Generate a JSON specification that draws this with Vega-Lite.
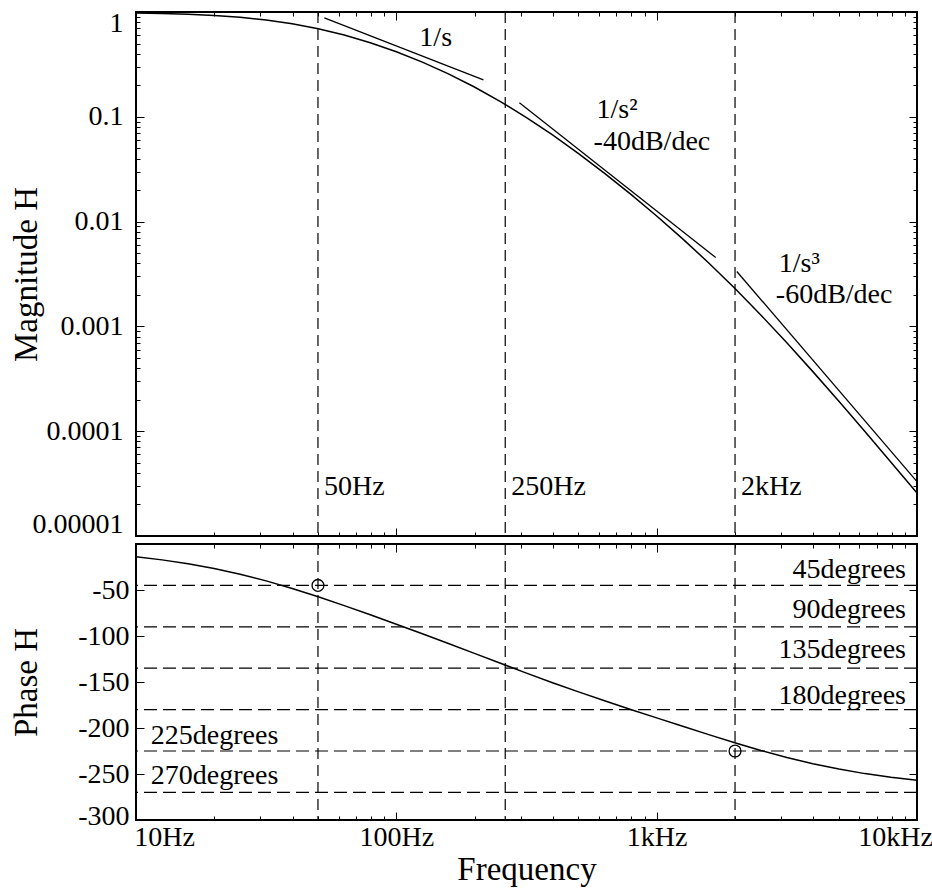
{
  "$schema": "https://vega.github.io/schema/vega-lite/v6.json",
  "padding": {"left": 8, "top": 1, "right": 0, "bottom": 0},
  "background": "white",
  "config": {
    "font": "Liberation Serif",
    "view": {"stroke": "black", "strokeWidth": 2},
    "axis": {
      "domain": false,
      "grid": false,
      "tickColor": "black",
      "tickWidth": 1,
      "labelFont": "Liberation Serif",
      "labelFontSize": 28,
      "labelColor": "black",
      "labelOverlap": false,
      "titleFont": "Liberation Serif",
      "titleFontSize": 33,
      "titleFontWeight": "normal",
      "titleColor": "black"
    }
  },
  "datasets": {
    "curve": [
      {"freq": 10, "mag": 0.97985, "phase": -13.78},
      {"freq": 12.589, "mag": 0.9686, "phase": -17.25},
      {"freq": 15.849, "mag": 0.95149, "phase": -21.5},
      {"freq": 19.953, "mag": 0.92605, "phase": -26.68},
      {"freq": 25.119, "mag": 0.88943, "phase": -32.87},
      {"freq": 31.623, "mag": 0.83896, "phase": -40.1},
      {"freq": 39.811, "mag": 0.77328, "phase": -48.31},
      {"freq": 50.119, "mag": 0.69347, "phase": -57.33},
      {"freq": 63.096, "mag": 0.60351, "phase": -66.95},
      {"freq": 79.433, "mag": 0.5094, "phase": -76.95},
      {"freq": 100, "mag": 0.41729, "phase": -87.18},
      {"freq": 125.89, "mag": 0.33205, "phase": -97.6},
      {"freq": 158.49, "mag": 0.25662, "phase": -108.19},
      {"freq": 199.53, "mag": 0.19243, "phase": -118.92},
      {"freq": 251.19, "mag": 0.13982, "phase": -129.69},
      {"freq": 316.23, "mag": 0.098415, "phase": -140.35},
      {"freq": 398.11, "mag": 0.067189, "phase": -150.75},
      {"freq": 501.19, "mag": 0.04461, "phase": -160.77},
      {"freq": 630.96, "mag": 0.028891, "phase": -170.43},
      {"freq": 794.33, "mag": 0.018289, "phase": -179.81},
      {"freq": 1000, "mag": 0.01132, "phase": -189.02},
      {"freq": 1258.9, "mag": 0.0068432, "phase": -198.16},
      {"freq": 1584.9, "mag": 0.0040306, "phase": -207.21},
      {"freq": 1995.3, "mag": 0.002309, "phase": -216.02},
      {"freq": 2511.9, "mag": 0.001286, "phase": -224.38},
      {"freq": 3162.3, "mag": 0.00069774, "phase": -232.05},
      {"freq": 3981.1, "mag": 0.00037022, "phase": -238.84},
      {"freq": 5011.9, "mag": 0.00019302, "phase": -244.68},
      {"freq": 6309.6, "mag": 0.000099338, "phase": -249.58},
      {"freq": 7943.3, "mag": 0.000050665, "phase": -253.62},
      {"freq": 10000, "mag": 0.000025682, "phase": -256.9}
    ],
    "segs": [
      {"seg": "s1", "freq": 52.9, "mag": 0.877},
      {"seg": "s1", "freq": 216, "mag": 0.225},
      {"seg": "s2", "freq": 297, "mag": 0.136},
      {"seg": "s2", "freq": 1686, "mag": 0.00454},
      {"seg": "s3", "freq": 2032, "mag": 0.00334},
      {"seg": "s3", "freq": 10000, "mag": 0.000033}
    ],
    "vlines": [{"freq": 50}, {"freq": 262}, {"freq": 2000}],
    "flabels": [
      {"freq": 50, "mag": 0.0000246, "label": "50Hz"},
      {"freq": 262, "mag": 0.0000246, "label": "250Hz"},
      {"freq": 2000, "mag": 0.0000246, "label": "2kHz"}
    ],
    "slabels": [
      {"freq": 122.6, "mag": 0.4746, "label": "1/s"},
      {"freq": 587.7, "mag": 0.0978, "label": "1/s²"},
      {"freq": 572.5, "mag": 0.0485, "label": "-40dB/dec"},
      {"freq": 2946, "mag": 0.00327, "label": "1/s³"},
      {"freq": 2869, "mag": 0.00169, "label": "-60dB/dec"}
    ],
    "hlines": [{"phase": -45}, {"phase": -90}, {"phase": -135}, {"phase": -180}, {"phase": -225}, {"phase": -270}],
    "plabelsR": [
      {"freq": 9072, "phase": -37.0, "label": "45degrees"},
      {"freq": 9072, "phase": -80.4, "label": "90degrees"},
      {"freq": 9072, "phase": -123.9, "label": "135degrees"},
      {"freq": 9072, "phase": -173.9, "label": "180degrees"}
    ],
    "plabelsL": [
      {"freq": 11.4, "phase": -217.4, "label": "225degrees"},
      {"freq": 11.4, "phase": -260.9, "label": "270degrees"}
    ],
    "circles": [{"freq": 50, "phase": -45}, {"freq": 2000, "phase": -225}]
  },
  "spacing": 3,
  "vconcat": [
    {
      "width": 781,
      "height": 524,
      "resolve": {"axis": {"x": "independent", "y": "independent"}},
      "layer": [
        {
          "data": {"name": "vlines"},
          "mark": {"type": "rule", "color": "black", "strokeWidth": 1.2, "strokeDash": [11, 6]},
          "encoding": {
            "x": {"field": "freq", "type": "quantitative", "scale": {"type": "log", "domain": [10, 10000], "nice": false}, "axis": null}
          }
        },
        {
          "data": {"name": "curve"},
          "mark": {"type": "line", "color": "black", "strokeWidth": 1.5},
          "encoding": {
            "x": {
              "field": "freq", "type": "quantitative",
              "scale": {"type": "log", "domain": [10, 10000], "nice": false},
              "axis": {
                "orient": "bottom", "title": null, "labels": false,
                "values": [10,20,30,40,50,60,70,80,90,100,200,300,400,500,600,700,800,900,1000,2000,3000,4000,5000,6000,7000,8000,9000,10000],
                "tickSize": {"condition": {"test": "abs(log(datum.value)/LN10 - round(log(datum.value)/LN10)) < 0.000001", "value": -8}, "value": -4}
              }
            },
            "y": {
              "field": "mag", "type": "quantitative",
              "scale": {"type": "log", "domain": [0.00001, 1], "nice": false},
              "axis": {
                "orient": "left", "title": "Magnitude H", "titleX": -100, "titleBaseline": "alphabetic",
                "labelFlush": false, "labelPadding": 21,
                "labelOffset": {"condition": [{"test": "datum.value > 0.99", "value": 11}, {"test": "datum.value < 0.0000101", "value": -12}], "value": 0},
                "values": [0.00001,0.00002,0.00003,0.00004,0.00005,0.00006,0.00007,0.00008,0.00009,0.0001,0.0002,0.0003,0.0004,0.0005,0.0006,0.0007,0.0008,0.0009,0.001,0.002,0.003,0.004,0.005,0.006,0.007,0.008,0.009,0.01,0.02,0.03,0.04,0.05,0.06,0.07,0.08,0.09,0.1,0.2,0.3,0.4,0.5,0.6,0.7,0.8,0.9,1],
                "labelExpr": "abs(log(datum.value)/LN10 - round(log(datum.value)/LN10)) < 0.000001 ? format(datum.value, '.5~f') : ''",
                "tickSize": {"condition": {"test": "abs(log(datum.value)/LN10 - round(log(datum.value)/LN10)) < 0.000001", "value": -8}, "value": -4}
              }
            }
          }
        },
        {
          "data": {"name": "segs"},
          "mark": {"type": "line", "color": "black", "strokeWidth": 1.3},
          "encoding": {
            "detail": {"field": "seg"},
            "x": {
              "field": "freq", "type": "quantitative",
              "scale": {"type": "log", "domain": [10, 10000], "nice": false},
              "axis": {
                "orient": "top", "title": null, "labels": false,
                "values": [10,20,30,40,50,60,70,80,90,100,200,300,400,500,600,700,800,900,1000,2000,3000,4000,5000,6000,7000,8000,9000,10000],
                "tickSize": {"condition": {"test": "abs(log(datum.value)/LN10 - round(log(datum.value)/LN10)) < 0.000001", "value": -8}, "value": -4}
              }
            },
            "y": {
              "field": "mag", "type": "quantitative",
              "scale": {"type": "log", "domain": [0.00001, 1], "nice": false},
              "axis": {
                "orient": "right", "title": null, "labels": false,
                "values": [0.00001,0.00002,0.00003,0.00004,0.00005,0.00006,0.00007,0.00008,0.00009,0.0001,0.0002,0.0003,0.0004,0.0005,0.0006,0.0007,0.0008,0.0009,0.001,0.002,0.003,0.004,0.005,0.006,0.007,0.008,0.009,0.01,0.02,0.03,0.04,0.05,0.06,0.07,0.08,0.09,0.1,0.2,0.3,0.4,0.5,0.6,0.7,0.8,0.9,1],
                "tickSize": {"condition": {"test": "abs(log(datum.value)/LN10 - round(log(datum.value)/LN10)) < 0.000001", "value": -8}, "value": -4}
              }
            }
          }
        },
        {
          "data": {"name": "flabels"},
          "mark": {"type": "text", "align": "left", "baseline": "alphabetic", "dx": 6, "fontSize": 28, "color": "black"},
          "encoding": {
            "x": {"field": "freq", "type": "quantitative", "scale": {"type": "log", "domain": [10, 10000], "nice": false}, "axis": null},
            "y": {"field": "mag", "type": "quantitative", "scale": {"type": "log", "domain": [0.00001, 1], "nice": false}, "axis": null},
            "text": {"field": "label"}
          }
        },
        {
          "data": {"name": "slabels"},
          "mark": {"type": "text", "align": "left", "baseline": "alphabetic", "fontSize": 28, "color": "black"},
          "encoding": {
            "x": {"field": "freq", "type": "quantitative", "scale": {"type": "log", "domain": [10, 10000], "nice": false}, "axis": null},
            "y": {"field": "mag", "type": "quantitative", "scale": {"type": "log", "domain": [0.00001, 1], "nice": false}, "axis": null},
            "text": {"field": "label"}
          }
        }
      ]
    },
    {
      "width": 781,
      "height": 276,
      "resolve": {"axis": {"x": "independent", "y": "independent"}},
      "layer": [
        {
          "data": {"name": "vlines"},
          "mark": {"type": "rule", "color": "black", "strokeWidth": 1.2, "strokeDash": [11, 6]},
          "encoding": {
            "x": {"field": "freq", "type": "quantitative", "scale": {"type": "log", "domain": [10, 10000], "nice": false}, "axis": null}
          }
        },
        {
          "data": {"name": "hlines"},
          "mark": {"type": "rule", "color": "black", "strokeWidth": 1.2, "strokeDash": [13, 6]},
          "encoding": {
            "y": {"field": "phase", "type": "quantitative", "scale": {"domain": [-300, 0], "nice": false, "zero": false}, "axis": null}
          }
        },
        {
          "data": {"name": "curve"},
          "mark": {"type": "line", "color": "black", "strokeWidth": 1.5},
          "encoding": {
            "x": {
              "field": "freq", "type": "quantitative",
              "scale": {"type": "log", "domain": [10, 10000], "nice": false},
              "axis": {
                "orient": "bottom", "title": "Frequency", "titlePadding": -2,
                "labelFlush": false, "labelPadding": 11,
                "labelOffset": {"condition": [{"test": "datum.value == 10", "value": 28}, {"test": "datum.value == 10000", "value": -22}], "value": 0},
                "values": [10,20,30,40,50,60,70,80,90,100,200,300,400,500,600,700,800,900,1000,2000,3000,4000,5000,6000,7000,8000,9000,10000],
                "labelExpr": "datum.value == 10 ? '10Hz' : datum.value == 100 ? '100Hz' : datum.value == 1000 ? '1kHz' : datum.value == 10000 ? '10kHz' : ''",
                "tickSize": {"condition": {"test": "abs(log(datum.value)/LN10 - round(log(datum.value)/LN10)) < 0.000001", "value": -8}, "value": -4}
              }
            },
            "y": {
              "field": "phase", "type": "quantitative",
              "scale": {"domain": [-300, 0], "nice": false, "zero": false},
              "axis": {
                "orient": "left", "title": "Phase H", "titleX": -100, "titleBaseline": "alphabetic",
                "labelPadding": 15, "tickSize": -8, "labelFlush": false,
                "labelOffset": {"condition": {"test": "datum.value == -300", "value": -4}, "value": 0},
                "labelExpr": "'' + datum.value",
                "values": [-300, -250, -200, -150, -100, -50]
              }
            }
          }
        },
        {
          "data": {"name": "circles"},
          "mark": {"type": "point", "shape": "circle", "filled": false, "color": "black", "size": 140, "strokeWidth": 1.3, "opacity": 1},
          "encoding": {
            "x": {
              "field": "freq", "type": "quantitative",
              "scale": {"type": "log", "domain": [10, 10000], "nice": false},
              "axis": {
                "orient": "top", "title": null, "labels": false,
                "values": [10,20,30,40,50,60,70,80,90,100,200,300,400,500,600,700,800,900,1000,2000,3000,4000,5000,6000,7000,8000,9000,10000],
                "tickSize": {"condition": {"test": "abs(log(datum.value)/LN10 - round(log(datum.value)/LN10)) < 0.000001", "value": -8}, "value": -4}
              }
            },
            "y": {
              "field": "phase", "type": "quantitative",
              "scale": {"domain": [-300, 0], "nice": false, "zero": false},
              "axis": {
                "orient": "right", "title": null, "labels": false, "tickSize": -8,
                "values": [-300, -250, -200, -150, -100, -50]
              }
            }
          }
        },
        {
          "data": {"name": "plabelsR"},
          "mark": {"type": "text", "align": "right", "baseline": "alphabetic", "fontSize": 28, "color": "black"},
          "encoding": {
            "x": {"field": "freq", "type": "quantitative", "scale": {"type": "log", "domain": [10, 10000], "nice": false}, "axis": null},
            "y": {"field": "phase", "type": "quantitative", "scale": {"domain": [-300, 0], "nice": false, "zero": false}, "axis": null},
            "text": {"field": "label"}
          }
        },
        {
          "data": {"name": "plabelsL"},
          "mark": {"type": "text", "align": "left", "baseline": "alphabetic", "fontSize": 28, "color": "black"},
          "encoding": {
            "x": {"field": "freq", "type": "quantitative", "scale": {"type": "log", "domain": [10, 10000], "nice": false}, "axis": null},
            "y": {"field": "phase", "type": "quantitative", "scale": {"domain": [-300, 0], "nice": false, "zero": false}, "axis": null},
            "text": {"field": "label"}
          }
        }
      ]
    }
  ]
}
